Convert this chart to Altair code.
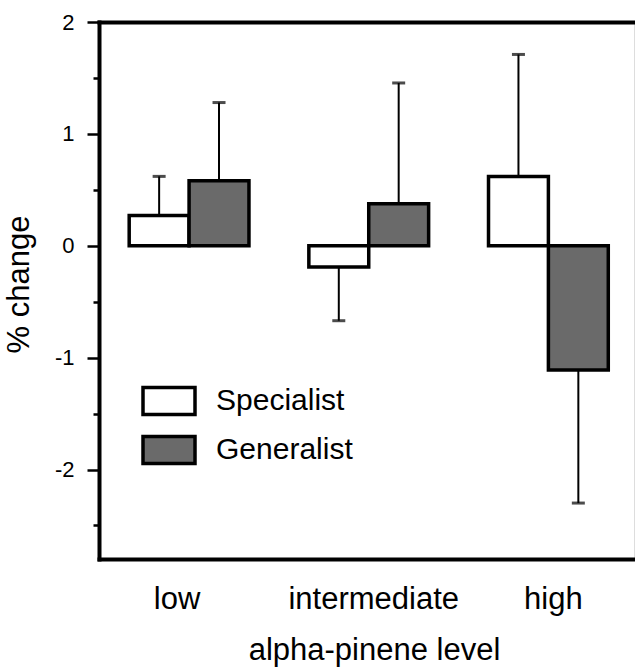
import altair as alt
import pandas as pd

levels = ["low", "intermediate", "high"]
groups = ["Specialist", "Generalist"]
specialist_mean = [0.27, -0.19, 0.62]
specialist_err = [0.35, 0.48, 1.09]
generalist_mean = [0.58, 0.375, -1.11]
generalist_err = [0.70, 1.08, 1.19]
y_ticks = [-2.5, -2, -1.5, -1, -0.5, 0, 0.5, 1, 1.5, 2]
y_domain = [-2.8, 2]
fills = ["white", "#6a6a6a"]

rows = []
for i, lv in enumerate(levels):
    rows.append(dict(level=lv, group=groups[0], mean=specialist_mean[i], err=specialist_err[i]))
    rows.append(dict(level=lv, group=groups[1], mean=generalist_mean[i], err=generalist_err[i]))
df = pd.DataFrame(rows)

FONT = "Liberation Sans"
BIG = 31

base = alt.Chart(df).transform_calculate(
    end="datum.mean >= 0 ? datum.mean + datum.err : datum.mean - datum.err"
)

x_scale = alt.Scale(domain=levels, paddingInner=1 / 3, paddingOuter=0.1556, align=0.54)
xo_scale = alt.Scale(domain=groups, paddingInner=0, paddingOuter=0)
y_scale = alt.Scale(domain=y_domain, nice=False, zero=False)

x_bottom = alt.X(
    "level:N", scale=x_scale, sort=levels,
    axis=alt.Axis(
        orient="bottom", title="alpha-pinene level", labelAngle=0, ticks=False,
        domainWidth=4, domainColor="black", domainCap="square",
        labelFont=FONT, labelFontSize=BIG, labelColor="black",
        labelBaseline="alphabetic", labelPadding=49,
        labelOffset={"condition": {"test": "datum.value === 'low'", "value": -12}, "value": 5},
        titleFont=FONT, titleFontSize=BIG, titleFontWeight="normal", titleColor="black",
        titleBaseline="alphabetic", titleAlign="center", titleX=275, titleY=100,
    ),
)
x_top = alt.X(
    "level:N", scale=x_scale, sort=levels,
    axis=alt.Axis(
        orient="top", labels=False, ticks=False, title=None,
        domainWidth=4, domainColor="black", domainCap="square",
    ),
)
x_none = alt.X("level:N", scale=x_scale, sort=levels, axis=None)
xo = alt.XOffset("group:N", scale=xo_scale, sort=groups)

y_axis = alt.Axis(
    values=y_ticks,
    labelExpr="datum.value % 1 === 0 ? '' + datum.value : ''",
    tickSize={"condition": {"test": "datum.value % 1 === 0", "value": 12}, "value": 6},
    tickWidth=2.5, tickColor="black",
    domainWidth=4, domainColor="black", domainCap="square",
    labelFont=FONT, labelFontSize=22, labelColor="black", labelPadding=13,
    grid=False,
    title="% change", titleFont=FONT, titleFontSize=BIG, titleFontWeight="normal",
    titleColor="black", titleBaseline="alphabetic", titleAlign="center",
    titleAngle=270, titleX=-71, titleY=262,
)

rules = base.mark_rule(strokeWidth=2, color="black").encode(
    x=x_top, xOffset=xo,
    y=alt.Y("mean:Q", scale=y_scale, axis=y_axis),
    y2="end:Q",
)
caps = base.mark_tick(thickness=3, size=13, color="black").encode(
    x=x_none, xOffset=xo,
    y=alt.Y("end:Q", scale=y_scale),
)
bars = base.mark_bar(stroke="black", strokeWidth=3.5).encode(
    x=x_bottom, xOffset=xo,
    y=alt.Y("mean:Q", scale=y_scale),
    y2=alt.datum(0),
    fill=alt.Fill(
        "group:N", scale=alt.Scale(domain=groups, range=fills),
        legend=alt.Legend(
            title=None, orient="none", legendX=55, legendY=364,
            symbolType="M-2,-1.04H2V1.04H-2Z", symbolSize=676,
            symbolStrokeWidth=3.5, symbolStrokeColor="black", symbolOpacity=1,
            labelFont=FONT, labelFontSize=30, labelColor="black",
            labelOffset=32, rowPadding=7, padding=0,
        ),
    ),
)

chart = alt.layer(rules, caps, bars).resolve_axis(x="independent").properties(
    width=535, height=537,
    padding={"left": 99, "top": 22, "right": 1, "bottom": 108},
    autosize=alt.AutoSizeParams(type="none"),
).configure_view(stroke="#b0b0b0", strokeWidth=1).configure(background="white")

chart.save("out.html", embed_options={"renderer": "svg", "actions": False})
